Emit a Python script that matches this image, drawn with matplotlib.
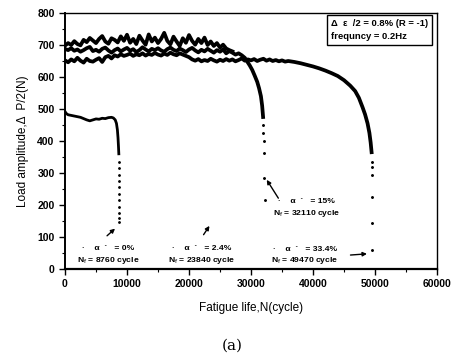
import numpy as np
import matplotlib
matplotlib.use("Agg")
import matplotlib.pyplot as plt

plt.rcParams['font.family'] = ['Liberation Sans', 'DejaVu Sans']

# ---- data ----
# alpha = 2.4 %  (upper noisy band)
xA = np.arange(0, 27500, 500)
yA = [698, 706, 700, 712, 703, 699, 716, 709, 722, 714,
      706, 719, 728, 711, 704, 721, 716, 708, 727, 713,
      732, 707, 719, 703, 729, 714, 701, 733, 711, 723,
      706, 719, 738, 713, 702, 726, 711, 697, 721, 707,
      731, 713, 701, 719, 706, 723, 700, 711, 697, 706,
      692, 701, 689, 684, 680]

# alpha = 15 %  (middle band, fails at 32110)
xB_plateau = np.arange(0, 28500, 500)
yB_plateau = [688, 684, 690, 682, 686, 679, 684, 690, 694, 681,
              685, 679, 688, 692, 683, 676, 684, 689, 680, 686,
              691, 682, 687, 678, 684, 693, 686, 680, 688, 684,
              690, 683, 679, 687, 692, 685, 681, 689, 684, 678,
              686, 691, 683, 677, 685, 680, 688, 682, 676, 684,
              679, 686, 674, 681, 676, 670, 674]
xB_tail = [28500, 29000, 29400, 29800, 30200, 30600, 31000, 31300, 31600, 31800, 31950]
yB_tail = [668, 660, 648, 636, 622, 604, 585, 565, 540, 510, 475]
xB_dots = [31980, 32000, 32020, 32080, 32150, 32260]
yB_dots = [450, 425, 400, 362, 284, 216]

# alpha = 33.4 %  (lower band, fails at 49470)
xC_plateau = np.arange(0, 36500, 500)
yC_plateau = [652, 646, 655, 649, 660, 651, 645, 657, 650, 648,
              654, 659, 647, 662, 666, 658, 668, 664, 671, 666,
              669, 673, 666, 671, 668, 674, 667, 672, 669, 675,
              670, 667, 673, 669, 676, 671, 668, 674, 670, 666,
              662, 655, 651, 656, 649, 653, 650, 657, 652, 648,
              654, 650, 656, 651, 655, 649, 653, 658, 651, 655,
              652, 656, 650, 654, 657, 651, 655, 650, 653, 649,
              652, 648, 650]
xC_tail = [37000, 38000, 39000, 40000, 41000, 42000, 43000, 44000, 45000,
           46000, 46800, 47400, 48000, 48400, 48800, 49100, 49300, 49450]
yC_tail = [647, 643, 638, 633, 627, 620, 612, 603, 590,
           573, 556, 535, 505, 483, 455, 425, 395, 365]
xC_dots = [49470, 49470, 49470, 49470, 49480, 49490]
yC_dots = [335, 319, 294, 225, 144, 60]

# alpha = 0 %  (fails at 8760)
xD = [0, 200, 500, 1000, 1500, 2000, 2500, 3000, 3500, 4000, 4500, 5000,
      5500, 6000, 6500, 7000, 7500, 7800, 8100, 8300, 8450, 8550, 8620, 8680]
yD = [492, 486, 482, 480, 478, 476, 474, 470, 466, 463, 466, 469,
      468, 471, 470, 473, 474, 472, 466, 455, 435, 410, 385, 360]
xD_dots = [8700] * 11
yD_dots = [335, 315, 295, 275, 255, 235, 215, 195, 175, 160, 148]

x_ticks = [0, 10000, 20000, 30000, 40000, 50000, 60000]
y_ticks = [0, 100, 200, 300, 400, 500, 600, 700, 800]

# ---- figure ----
fig = plt.figure(figsize=(4.57, 3.62), dpi=100)
ax = fig.add_axes([65/457, 1-269/362, 372/457, 256/362])

lw = 2.7
ax.plot(xA, yA, color='black', lw=lw)
ax.plot(np.concatenate([xB_plateau, xB_tail]), yB_plateau + yB_tail, color='black', lw=lw)
ax.plot(xB_dots, yB_dots, ls='none', marker='o', ms=1.1, color='black')
ax.plot(np.concatenate([xC_plateau, xC_tail]), yC_plateau + yC_tail, color='black', lw=lw)
ax.plot(xC_dots, yC_dots, ls='none', marker='o', ms=1.1, color='black')
ax.plot(xD, yD, color='black', lw=2.0)
ax.plot(xD_dots, yD_dots, ls='none', marker='o', ms=1.0, color='black')

ax.set_xlim(0, 60000)
ax.set_ylim(0, 800)
ax.set_xticks(x_ticks)
ax.set_yticks(y_ticks)
ax.set_xticks(np.arange(5000, 60000, 10000), minor=True)
ax.set_yticks(np.arange(50, 800, 100), minor=True)
ax.tick_params(which='major', direction='out', length=4, width=1, labelsize=7.5)
ax.tick_params(which='minor', direction='out', length=2, width=0.8)
for lab in ax.get_xticklabels() + ax.get_yticklabels():
    lab.set_fontweight('bold')
for sp in ax.spines.values():
    sp.set_linewidth(1.0)
ax.spines['bottom'].set_linewidth(1.6)
ax.spines['left'].set_linewidth(1.4)

ax.set_xlabel('Fatigue life,N(cycle)', fontsize=8.5, labelpad=9)
ax.set_ylabel('Load amplitude,\u0394  P/2(N)', fontsize=8.5, labelpad=6)

# info box
ax.text(0.715, 0.977, '\u0394  \u03b5  /2 = 0.8% (R = -1)\nfrequncy = 0.2Hz',
        transform=ax.transAxes, va='top', ha='left', fontsize=6.8,
        fontweight='bold', linespacing=1.6,
        bbox=dict(boxstyle='square,pad=0.4', fc='white', ec='black', lw=1))

fs = 6.1
def label(xc, y1, y2, a, n):
    ax.text(xc, y1, '\u00b7    \u03b1  \u00b4   = ' + a, ha='center', va='center',
            fontsize=fs, fontweight='bold')
    ax.text(xc, y2, r'N$_{\rm f}$ = ' + n + ' cycle', ha='center', va='center',
            fontsize=fs, fontweight='bold')

label(7000, 64, 27, '0%', '8760')
label(22000, 64, 27, '2.4%', '23840')
label(38900, 211, 174, '15%', '32110')
label(38700, 62, 27, '33.4%', '49470')

ap = dict(arrowstyle='-|>', color='black', lw=1.0, mutation_scale=6)
ax.annotate('', xy=(8400, 132), xytext=(6450, 98), arrowprops=ap)
ax.annotate('', xy=(23550, 142), xytext=(22100, 100), arrowprops=ap)
ax.annotate('', xy=(32300, 286), xytext=(34650, 214), arrowprops=ap)
ax.annotate('', xy=(49150, 48), xytext=(45600, 43), arrowprops=ap)

fig.text(232/457, 1-346/362, '(a)', ha='center', va='center',
         fontsize=11, family='DejaVu Serif')

fig.savefig('out.png', dpi=100)
